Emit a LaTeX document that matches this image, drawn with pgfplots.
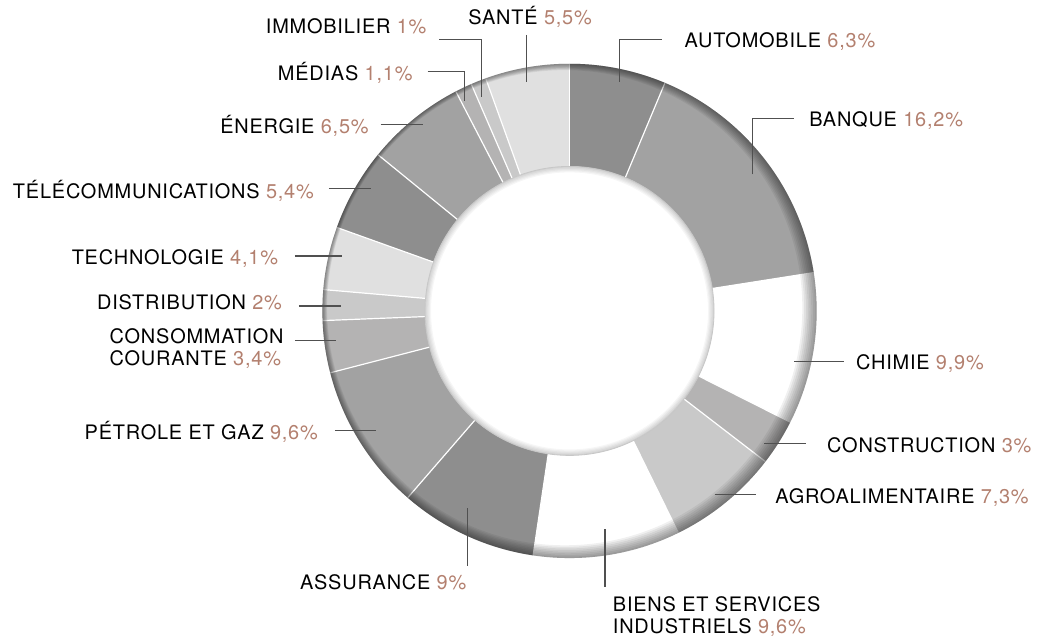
\documentclass[border=0pt]{standalone}
\usepackage{pgfplots}
\pgfplotsset{compat=1.18}
\usepackage{pgfplotstable}
\usepackage{fontspec}
\setmainfont{TeX Gyre Heros}[LetterSpace=4]
\definecolor{pc}{HTML}{B3806F}
\definecolor{txt}{HTML}{1A1A1A}
\definecolor{ga}{HTML}{8E8E8E}
\definecolor{gb}{HTML}{A2A2A2}
\definecolor{gc}{HTML}{B4B3B3}
\definecolor{gd}{HTML}{C9C9C9}
\definecolor{ge}{HTML}{E0E0E0}
\definecolor{gw}{HTML}{FFFFFF}
\definecolor{lead}{HTML}{505050}
\newcommand{\pc}[1]{\textcolor{pc}{#1}}

\pgfplotstableread[col sep=comma]{
sector,value,col
Automobile,6.3,ga
Banque,16.2,gb
Chimie,9.9,gw
Construction,3,gc
Agroalimentaire,7.3,gd
Biens et services industriels,9.6,gw
Assurance,9,ga
Petrole et gaz,9.6,gb
Consommation courante,3.4,gc
Distribution,2,gd
Technologie,4.1,ge
Telecommunications,5.4,ga
Energie,6.5,gb
Medias,1.1,gc
Immobilier,1,gd
Sante,5.5,ge
}\sectors

\begin{document}
\begin{tikzpicture}
\begin{axis}[x=0.5pt,y=0.5pt,xmin=0,xmax=1038,ymin=0,ymax=635,
  hide axis,scale only axis,clip=false,
  every node/.append style={inner sep=0pt,font=\fontsize{11.3}{13}\selectfont,text=txt},
  ]
\path (axis cs:0,0) rectangle (axis cs:1038,635);
% sectors
\def\cum{0}
\pgfplotsforeachungrouped \i in {0,...,15}{%
  \pgfplotstablegetelem{\i}{value}\of\sectors \let\vv\pgfplotsretval
  \pgfplotstablegetelem{\i}{col}\of\sectors \let\cc\pgfplotsretval
  \pgfmathsetmacro\aone{90-\cum*3.6036036}%
  \pgfmathsetmacro\cum{\cum+\vv}%
  \pgfmathsetmacro\atwo{90-\cum*3.6036036}%
  \edef\temp{\noexpand\fill[\cc] (axis cs:571.5,325) ++(\aone:124pt) arc[start angle=\aone,end angle=\atwo,radius=124pt] -- ++(\atwo:-51.5pt) arc[start angle=\atwo,end angle=\aone,radius=72.5pt] -- cycle;}%
  \temp
}
% separators
\def\cum{0}
\pgfplotsforeachungrouped \i in {0,...,15}{%
  \pgfplotstablegetelem{\i}{value}\of\sectors \let\vv\pgfplotsretval
  \pgfmathsetmacro\aone{90-\cum*3.6036036}%
  \pgfmathsetmacro\cum{\cum+\vv}%
  \edef\temp{\noexpand\draw[white,line width=0.6pt] (axis cs:571.5,325) ++(\aone:72.5pt) -- ++(\aone:51.5pt);}%
  \temp
}
% outer rim shading
\pgfplotsforeachungrouped \k in {1,...,8}{%
  \pgfmathsetmacro\rr{124-0.6*\k}%
  \pgfmathsetmacro\dx{-0.3*\k}%
  \pgfmathsetmacro\dy{0.2*\k}%
  \edef\temp{\noexpand\fill[black,opacity=0.06,even odd rule] (axis cs:571.5,325) circle[radius=124pt] (axis cs:571.5,325) ++(\dx pt,\dy pt) circle[radius=\rr pt];}%
  \temp
}
% hole
\fill[white] (axis cs:571.5,325) circle[radius=72.5pt];
\pgfplotsforeachungrouped \k in {1,...,5}{%
  \pgfmathsetmacro\rr{72.5-0.6*\k}%
  \edef\temp{\noexpand\fill[black,opacity=0.035,even odd rule] (axis cs:571.5,325) circle[radius=72.5pt] (axis cs:571.5,325) circle[radius=\rr pt];}%
  \temp
}
\draw[black!22,line width=0.4pt] (axis cs:571.5,325) circle[radius=72.5pt];

% leaders
\begin{scope}[draw=lead,line width=0.6pt]
\draw (axis cs:622,555) -- (axis cs:622,597) -- (axis cs:664,597);
\draw (axis cs:755,462) -- (axis cs:755,518) -- (axis cs:797,518);
\draw (axis cs:797,274) -- (axis cs:847,274);
\draw (axis cs:767,192) -- (axis cs:809,192);
\draw (axis cs:717,141) -- (axis cs:759,141);
\draw (axis cs:607,106) -- (axis cs:607,48);
\draw (axis cs:469,127) -- (axis cs:469,69);
\draw (axis cs:336,205) -- (axis cs:377,205);
\draw (axis cs:296,295) -- (axis cs:337,295);
\draw (axis cs:300,330) -- (axis cs:342,330);
\draw (axis cs:296,380) -- (axis cs:343,380);
\draw (axis cs:330,448) -- (axis cs:372,448);
\draw (axis cs:382,512) -- (axis cs:424,512);
\draw (axis cs:429,565) -- (axis cs:466,565) -- (axis cs:466,536);
\draw (axis cs:441,597) -- (axis cs:483,597) -- (axis cs:483,540);
\draw (axis cs:528,602) -- (axis cs:528,555);
\end{scope}

% labels
\node[anchor=base west] at (axis cs:680,589) {AUTOMOBILE \pc{6,3\%}};
\node[anchor=base west] at (axis cs:805,510) {BANQUE \pc{16,2\%}};
\node[anchor=base west] at (axis cs:852,266) {CHIMIE \pc{9,9\%}};
\node[anchor=base west] at (axis cs:823,183) {CONSTRUCTION \pc{3\%}};
\node[anchor=base west] at (axis cs:771,132) {AGROALIMENTAIRE \pc{7,3\%}};
\node[anchor=base west] at (axis cs:608,23) {BIENS ET SERVICES};
\node[anchor=base west] at (axis cs:608,1) {INDUSTRIELS \pc{9,6\%}};
\node[anchor=base east] at (axis cs:475,45) {ASSURANCE \pc{9\%}};
\node[anchor=base east] at (axis cs:326,196) {PÉTROLE ET GAZ \pc{9,6\%}};
\node[anchor=base west] at (axis cs:103,292) {CONSOMMATION};
\node[anchor=base west] at (axis cs:103,270) {COURANTE \pc{3,4\%}};
\node[anchor=base east] at (axis cs:290,326) {DISTRIBUTION \pc{2\%}};
\node[anchor=base east] at (axis cs:286,372) {TECHNOLOGIE \pc{4,1\%}};
\node[anchor=base east] at (axis cs:322,438) {TÉLÉCOMMUNICATIONS \pc{5,4\%}};
\node[anchor=base east] at (axis cs:377,503) {ÉNERGIE \pc{6,5\%}};
\node[anchor=base east] at (axis cs:421,556) {MÉDIAS \pc{1,1\%}};
\node[anchor=base east] at (axis cs:435,603) {IMMOBILIER \pc{1\%}};
\node[anchor=base west] at (axis cs:463,612) {SANTÉ \pc{5,5\%}};
\end{axis}
\end{tikzpicture}
\end{document}
